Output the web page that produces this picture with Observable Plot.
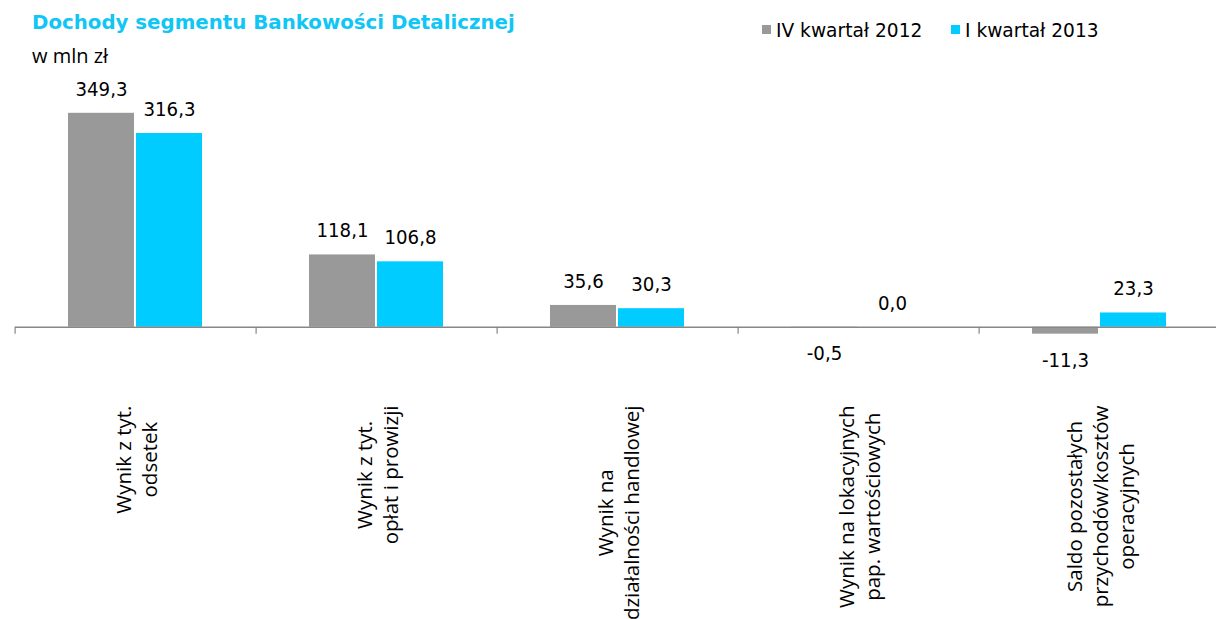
<!DOCTYPE html>
<html>
<head>
<meta charset="utf-8">
<script src="https://cdn.jsdelivr.net/npm/d3@7"></script>
<script src="https://cdn.jsdelivr.net/npm/@observablehq/plot@0.6"></script>
<style>
  html, body { margin: 0; padding: 0; background: #fff; }
  #wrap { position: relative; width: 1216px; height: 619px; overflow: hidden; }
  #header { position: relative; width: 1216px; height: 70px; }
  .t { position: absolute; white-space: nowrap; font-family: "DejaVu Sans", sans-serif; }
  .sw { position: absolute; width: 9px; height: 9px; }
  #chart svg { display: block; }
</style>
</head>
<body>
<div id="wrap">
  <div id="header"></div>
  <div id="chart"></div>
</div>
<script>
// ---- data ----
const title = "Dochody segmentu Bankowości Detalicznej";
const subtitle = "w mln zł";
const categories = [
  "Wynik z tyt.\nodsetek",
  "Wynik z tyt.\nopłat i prowizji",
  "Wynik na\ndziałalności handlowej",
  "Wynik na lokacyjnych\npap. wartościowych",
  "Saldo pozostałych\nprzychodów/kosztów\noperacyjnych"
];
const series = ["IV kwartał 2012", "I kwartał 2013"];
const q4_2012 = [349.3, 118.1, 35.6, -0.5, -11.3];
const q1_2013 = [316.3, 106.8, 30.3, 0.0, 23.3];
const colors = ["#999999", "#00ccff"];

// ---- header (title, subtitle, legend) ----
const header = document.getElementById("header");
function addText(txt, left, top, size, extra) {
  const d = document.createElement("div");
  d.className = "t";
  d.textContent = txt;
  d.style.left = left + "px";
  d.style.top = top + "px";
  d.style.fontSize = size + "px";
  d.style.lineHeight = size + "px";
  Object.assign(d.style, extra || {});
  header.appendChild(d);
}
addText(title, 32, 13, 19.8, { fontWeight: "bold", color: "#0fc6f5" });
addText(subtitle, 32, 46, 20, { color: "#000", fontFamily: '"Open Sans", sans-serif' });
const legendPos = [762, 951];
series.forEach((s, i) => {
  const sw = document.createElement("div");
  sw.className = "sw";
  sw.style.left = legendPos[i] + "px";
  sw.style.top = "25px";
  sw.style.background = colors[i];
  header.appendChild(sw);
  addText(s, legendPos[i] + 14, 21.5, 18.6, { color: "#000" });
});

// ---- chart ----
const rows = categories.flatMap((c, i) => [
  { category: c, series: series[0], value: q4_2012[i] },
  { category: c, series: series[1], value: q1_2013[i] }
]);
const fmt = v => v.toFixed(1).replace(".", ",");

const W = 1216, H = 549, mL = 13, mR = -6;
const facetW = (W - mL - mR) / categories.length;
const pIn = 0.025, pOut = 0.764;
const step = facetW / (series.length - pIn + 2 * pOut);
const bw = step * (1 - pIn);
const tickDx = -(pOut * step + bw / 2);

const catFont = '"Open Sans", sans-serif';
const catSize = 20.5;
const ctx = document.createElement("canvas").getContext("2d");
ctx.font = `${catSize}px ${catFont}`;
const maxLine = c => Math.max(...c.split("\n").map(l => ctx.measureText(l).width));

const valFont = '"DejaVu Sans Condensed", "DejaVu Sans", sans-serif';

const chart = Plot.plot({
  width: W,
  height: H,
  marginLeft: mL,
  marginRight: mR,
  marginTop: 24,
  marginBottom: 280,
  fx: { domain: categories, padding: 0, axis: null },
  x: { domain: series, paddingInner: pIn, paddingOuter: pOut, axis: null },
  y: { domain: [-20, 380], axis: null },
  color: { domain: series, range: colors },
  style: { background: "#fff", overflow: "visible" },
  marks: [
    Plot.barY(rows, { fx: "category", x: "series", y: "value", fill: "series" }),
    Plot.ruleY([0], { stroke: "#878787", strokeWidth: 1.4 }),
    Plot.ruleX(categories, {
      fx: d => d, x: () => series[0], y1: 0, y2: 0,
      dx: tickDx, insetBottom: -7, stroke: "#878787", strokeWidth: 1.2
    }),
    Plot.text(rows.filter(d => d.value >= 0), {
      fx: "category", x: "series", y: "value", text: d => fmt(d.value),
      dy: -24, fontSize: 20.2, fontFamily: valFont, fill: "#000"
    }),
    Plot.text(rows.filter(d => d.value < 0), {
      fx: "category", x: "series", y: "value", text: d => fmt(d.value),
      dy: 26, fontSize: 20.2, fontFamily: valFont, fill: "#000"
    }),
    ...categories.map(c => Plot.text([c], {
      fx: d => d, text: d => d, frameAnchor: "bottom",
      rotate: -90, textAnchor: "middle", lineAnchor: "middle",
      lineHeight: 26 / catSize,
      dy: 66 + maxLine(c) / 2,
      fontSize: catSize, fontFamily: catFont, fill: "#000"
    }))
  ]
});
document.getElementById("chart").appendChild(chart);
</script>
</body>
</html>
